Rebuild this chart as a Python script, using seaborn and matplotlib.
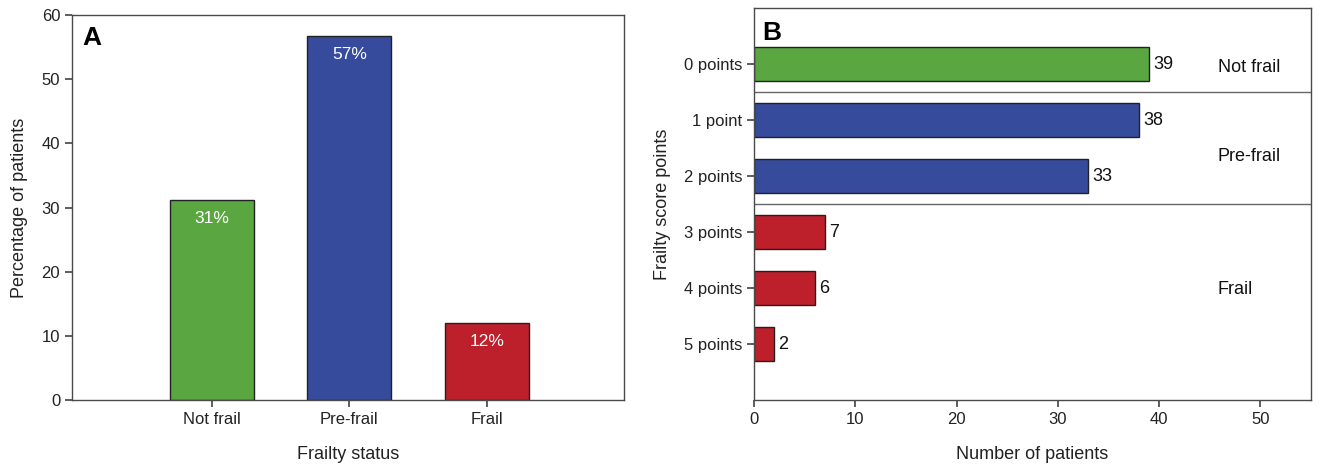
import matplotlib
matplotlib.use("Agg")
import matplotlib.pyplot as plt
import seaborn as sns
import pandas as pd

# Frailty score distribution (number of patients per score)
score_labels = ["0 points", "1 point", "2 points", "3 points", "4 points", "5 points"]
score_counts = [39, 38, 33, 7, 6, 2]
score_group = ["Not frail", "Pre-frail", "Pre-frail", "Frail", "Frail", "Frail"]

# Frailty status categories
status_labels = ["Not frail", "Pre-frail", "Frail"]

palette = {"Not frail": "#5aa640", "Pre-frail": "#374b9c", "Frail": "#bd1f2b"}

total = sum(score_counts)
status_pct = [100 * sum(c for c, g in zip(score_counts, score_group) if g == s) / total
              for s in status_labels]

sns.set_theme(style="ticks")
plt.rcParams["font.family"] = ["Liberation Sans", "DejaVu Sans"]
spine_col = "#4a4a4a"
plt.rcParams.update({
    "axes.edgecolor": spine_col,
    "axes.linewidth": 1.0,
    "xtick.color": spine_col,
    "ytick.color": spine_col,
    "xtick.labelcolor": "#222222",
    "ytick.labelcolor": "#222222",
    "xtick.major.size": 5,
    "ytick.major.size": 5,
    "xtick.labelsize": 12,
    "ytick.labelsize": 12,
    "axes.labelsize": 13,
    "axes.labelcolor": "#222222",
})

fig = plt.figure(figsize=(13.2, 4.72), dpi=100)
axA = fig.add_axes([0.0545, 0.1525, 0.4182, 0.8157])
axB = fig.add_axes([0.5712, 0.1525, 0.4220, 0.8305])

# Panel A: percentage of patients by frailty status
dfA = pd.DataFrame({"status": status_labels, "pct": status_pct})
sns.barplot(data=dfA, x="status", y="pct", hue="status", palette=palette,
            order=status_labels, hue_order=status_labels, width=0.61,
            saturation=1, edgecolor="#222222", linewidth=1.0, legend=False, ax=axA)
axA.set_xlim(-1.02, 3.0)
axA.set_ylim(0, 60)
axA.set_yticks(range(0, 61, 10))
axA.set_xlabel("Frailty status", labelpad=14)
axA.set_ylabel("Percentage of patients", labelpad=10)
for i, v in enumerate(status_pct):
    axA.text(i, v - 2.9, f"{v:.0f}%", ha="center", va="center",
             color="white", fontsize=12.5)
axA.text(0.018, 0.972, "A", transform=axA.transAxes, fontsize=19,
         fontweight="bold", ha="left", va="top", color="black")
for s in axA.spines.values():
    s.set_visible(True)

# Panel B: number of patients by frailty score
dfB = pd.DataFrame({"score": score_labels, "count": score_counts, "group": score_group})
sns.barplot(data=dfB, x="count", y="score", hue="group", palette=palette,
            order=score_labels, hue_order=status_labels, dodge=False, width=0.6,
            saturation=1, edgecolor="#222222", linewidth=1.0, legend=False, ax=axB)
axB.set_xlim(0, 55)
axB.set_ylim(6, -1)
axB.set_xticks(range(0, 51, 10))
axB.set_xlabel("Number of patients", labelpad=14)
axB.set_ylabel("Frailty score points", labelpad=9)
for i, c in enumerate(score_counts):
    axB.text(c + 0.4, i, str(c), ha="left", va="center", fontsize=13, color="#111111")
for yline in (0.5, 2.5):
    axB.axhline(yline, color="#666666", linewidth=1.0)
axB.text(45.8, 0.06, "Not frail", ha="left", va="center", fontsize=13, color="#111111")
axB.text(45.8, 1.66, "Pre-frail", ha="left", va="center", fontsize=13, color="#111111")
axB.text(45.8, 4.03, "Frail", ha="left", va="center", fontsize=13, color="#111111")
axB.text(0.014, 0.968, "B", transform=axB.transAxes, fontsize=19,
         fontweight="bold", ha="left", va="top", color="black")
for s in axB.spines.values():
    s.set_visible(True)

fig.savefig("out.png", dpi=100)
